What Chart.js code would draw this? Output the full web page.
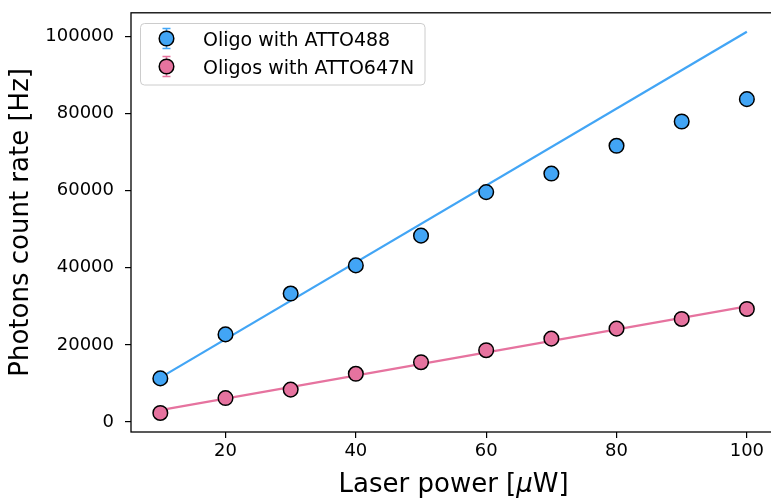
<!DOCTYPE html>
<html>
<head>
<meta charset="utf-8">
<script src="https://cdn.jsdelivr.net/npm/chart.js@4/dist/chart.umd.min.js"></script>
<style>
  html, body { margin: 0; padding: 0; background: #fff; overflow: hidden; }
  #wrap { width: 771px; height: 499px; overflow: hidden; }
  canvas { display: block; margin-top: -9px; }
</style>
</head>
<body>
<div id="wrap"><canvas id="c" width="785" height="508"></canvas></div>
<script>
// Laser power steps (µW)
const power = [10, 20, 30, 40, 50, 60, 70, 80, 90, 100];
// Measured photon count rates (Hz)
const rateAtto488 = [11300, 22700, 33300, 40600, 48300, 59600, 64400, 71600, 77900, 83700];
const rateAtto647N = [2340, 6200, 8400, 12500, 15500, 18600, 21600, 24200, 26700, 29300];
// Linear fits, evaluated at the ends of the power range
const fitPower = [10, 100];
const fitAtto488 = [11500, 101150];
const fitAtto647N = [3100, 30000];
// Axis ticks
const xTicks = [20, 40, 60, 80, 100];
const yTicks = [0, 20000, 40000, 60000, 80000, 100000];

const labels = ['Oligo with ATTO488', 'Oligos with ATTO647N'];
const blue = '#42A5F5';
const pink = '#E6739F';

const FONT = 'DejaVu Sans';
// canvas is shifted up by this much inside the page (absorbs the y-tick top padding)
const SHIFT = 9;

function pts(xs, ys) { return xs.map((x, i) => ({ x: x, y: ys[i] })); }

// Frame around the plot area (matplotlib-like spines)
const framePlugin = {
  id: 'frame',
  afterDraw(chart) {
    const { ctx, chartArea: a } = chart;
    ctx.save();
    ctx.strokeStyle = '#000';
    ctx.lineWidth = 1.3;
    ctx.strokeRect(a.left, a.top, a.right - a.left, a.bottom - a.top);
    ctx.restore();
  }
};

// X-axis title with an italic mu, as in mathtext
const xTitlePlugin = {
  id: 'xTitle',
  afterDraw(chart) {
    const { ctx, chartArea: a } = chart;
    const parts = [
      ['Laser power [', '26px "' + FONT + '"'],
      ['μ', 'italic 26px "' + FONT + '"'],
      ['W]', '26px "' + FONT + '"']
    ];
    ctx.save();
    let total = 0;
    parts.forEach(p => { ctx.font = p[1]; total += ctx.measureText(p[0]).width; });
    let x = (a.left + a.right) / 2 - total / 2;
    const y = 492 + SHIFT;
    ctx.fillStyle = '#000';
    ctx.textBaseline = 'alphabetic';
    ctx.textAlign = 'left';
    parts.forEach(p => { ctx.font = p[1]; ctx.fillText(p[0], x, y); x += ctx.measureText(p[0]).width; });
    ctx.restore();
  }
};

// Legend box with errorbar-style markers
const legendPlugin = {
  id: 'boxLegend',
  afterDraw(chart) {
    const { ctx } = chart;
    const entries = chart.data.datasets.filter(d => d.showInLegend);
    const x0 = 140.5, y0 = 23.5 + SHIFT, w = 284.5, h = 61.5, r = 4;
    ctx.save();
    ctx.beginPath();
    ctx.roundRect(x0, y0, w, h, r);
    ctx.fillStyle = 'rgba(255,255,255,0.8)';
    ctx.fill();
    ctx.strokeStyle = '#cccccc';
    ctx.lineWidth = 1;
    ctx.stroke();
    const rows = [38.5 + SHIFT, 66.5 + SHIFT];
    entries.forEach((d, i) => {
      const cx = 166.5, cy = rows[i];
      ctx.strokeStyle = d.backgroundColor;
      ctx.lineWidth = 1.6;
      ctx.beginPath();
      ctx.moveTo(cx, cy - 10); ctx.lineTo(cx, cy + 10);
      ctx.moveTo(cx - 4, cy - 10); ctx.lineTo(cx + 4, cy - 10);
      ctx.moveTo(cx - 4, cy + 10); ctx.lineTo(cx + 4, cy + 10);
      ctx.stroke();
      ctx.beginPath();
      ctx.arc(cx, cy, 7.3, 0, Math.PI * 2);
      ctx.fillStyle = d.backgroundColor;
      ctx.fill();
      ctx.strokeStyle = '#000';
      ctx.lineWidth = 1.5;
      ctx.stroke();
      ctx.fillStyle = '#000';
      ctx.font = '19px "' + FONT + '"';
      ctx.textBaseline = 'alphabetic';
      ctx.textAlign = 'left';
      ctx.fillText(d.label, 203, cy + 7);
    });
    ctx.restore();
  }
};

new Chart(document.getElementById('c'), {
  type: 'scatter',
  data: {
    datasets: [
      {
        type: 'line', label: labels[0] + ' fit', data: pts(fitPower, fitAtto488),
        borderColor: blue, borderWidth: 2.3, pointRadius: 0, fill: false, order: 2
      },
      {
        type: 'line', label: labels[1] + ' fit', data: pts(fitPower, fitAtto647N),
        borderColor: pink, borderWidth: 2.3, pointRadius: 0, fill: false, order: 2
      },
      {
        label: labels[0], data: pts(power, rateAtto488), showInLegend: true,
        backgroundColor: blue, borderColor: '#000', borderWidth: 1.5,
        pointRadius: 7.3, pointHoverRadius: 7.3, order: 1
      },
      {
        label: labels[1], data: pts(power, rateAtto647N), showInLegend: true,
        backgroundColor: pink, borderColor: '#000', borderWidth: 1.5,
        pointRadius: 7.3, pointHoverRadius: 7.3, order: 1
      }
    ]
  },
  options: {
    responsive: false,
    animation: false,
    events: [],
    layout: { padding: { top: 8, right: 0, left: 0, bottom: 0 } },
    plugins: { legend: { display: false }, tooltip: { enabled: false } },
    scales: {
      x: {
        type: 'linear', min: 5.5, max: 104.5,
        afterBuildTicks(s) { s.ticks = xTicks.map(v => ({ value: v })); },
        afterFit(s) { s.height = 67; },
        border: { display: false },
        grid: { drawOnChartArea: false, drawTicks: true, tickLength: 6, color: '#000', lineWidth: 1.2 },
        ticks: { color: '#000', font: { family: FONT, size: 18 }, padding: 3, maxRotation: 0 },
        title: { display: false }
      },
      y: {
        type: 'linear', min: -2597, max: 106080,
        afterBuildTicks(s) { s.ticks = yTicks.map(v => ({ value: v })); },
        afterFit(s) { s.width = 131; },
        border: { display: false },
        grid: { drawOnChartArea: false, drawTicks: true, tickLength: 6, color: '#000', lineWidth: 1.2 },
        ticks: { color: '#000', font: { family: FONT, size: 18 }, padding: 11,
                 callback: v => String(v) },
        title: { display: true, text: 'Photons count rate [Hz]', color: '#000',
                 font: { family: FONT, size: 26 }, padding: { top: 6, bottom: 0 } }
      }
    }
  },
  plugins: [framePlugin, legendPlugin, xTitlePlugin]
});
</script>
</body>
</html>
